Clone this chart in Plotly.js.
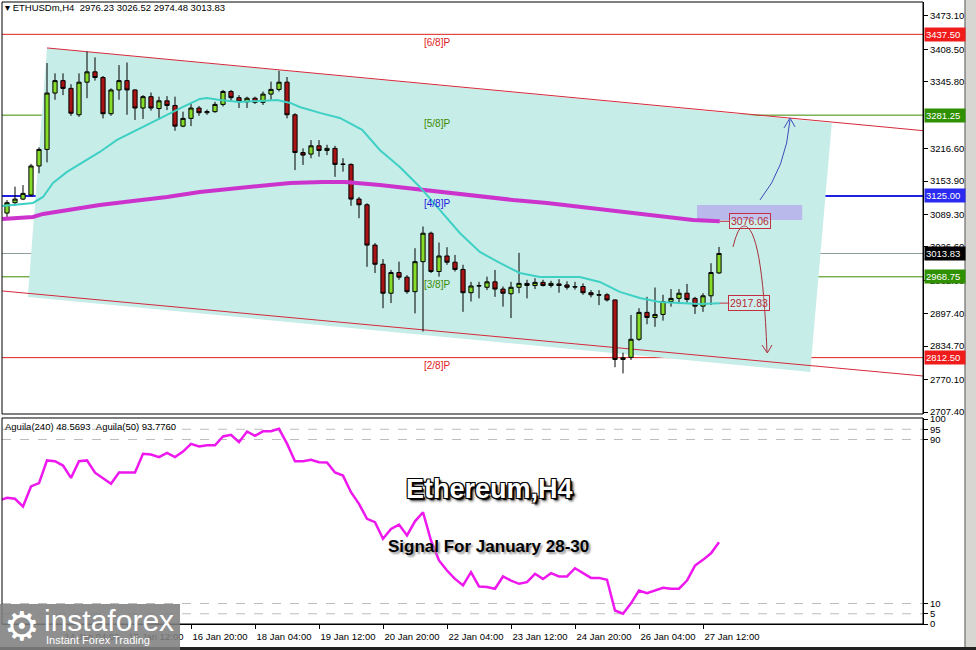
<!DOCTYPE html>
<html><head><meta charset="utf-8">
<script src="https://cdn.plot.ly/plotly-3.0.1.min.js"></script>
<style>html,body{margin:0;padding:0;background:#fff;}#chart{width:976px;height:650px;}</style>
</head><body><div id="chart"></div>
<script>
// ---- candles (H4 bars, index 0..89) ----
const barIndex = Array.from({length: 90}, (_, i) => i);
const opens = [3092,3112,3119,3127,3183,3215,3324,3348,3333,3282,3345,3365,3354,3284,3330,3348,3330,3295,3317,3294,
  3309,3300,3260,3275,3295,3286,3288,3302,3327,3315,3307,3314,3306,3322,3331,3345,3282,3209,3206,3222,
  3213,3217,3186,3186,3119,3108,3030,2993,2937,2977,2968,2940,2998,3053,2979,3009,2997,2983,2938,2951,
  2948.5,2959,2945,2936,2948.5,2956,2952,2958,2952,2955,2953,2949,2950,2938,2934,2934,2924,2809,2813,2848,
  2900,2890,2896,2921,2927,2937,2927,2912,2932,2976.23];
const highs = [3117,3143,3146,3187,3219,3382,3362,3362,3341,3362,3404,3393,3357,3333,3378,3383,3331,3320,3325,3317,
  3318,3317,3288,3304,3299,3292,3307,3330,3330,3320,3317,3317,3327,3346,3367,3355,3285,3217,3233,3233,
  3224,3222,3198,3188,3123,3111,3034,3003,2982,2998,2972,3024,3066,3056,3035,3026,3011,2992,2959,2959,
  2969,2982,2950,2959,3015,2963,2966,2963,2961,2964,2960,2959,2956,2943,2943,2937,2925,2822,2895,2908,
  2930,2948,2934,2945,2945,2955,2930,2937,2995,3026.52];
const lows = [3084,3106,3117,3124,3169,3190,3311,3320,3280,3278,3314,3348,3275,3280,3311,3282,3272,3274,3290,3273,
  3291,3251,3258,3260,3280,3282,3286,3298,3309,3295,3295,3303,3301,3311,3327,3275,3175,3185,3198,3201,
  3204,3162,3172,3106,3082,2988,2976,2908,2918,2963,2936,2898,2863,2976,2969,2992,2979,2901,2921,2927,
  2943,2930,2911,2889,2937,2927,2945,2950,2948,2938,2944,2944,2934,2929,2914,2921,2794,2782,2808,2845,
  2877,2872,2884,2911,2916,2919,2897,2901,2914,2974.48];
const closes = [3112,3119,3130,3183,3215,3324,3348,3333,3285,3345,3365,3354,3284,3330,3348,3330,3295,3317,3295,3309,
  3300,3260,3275,3295,3286,3288,3302,3327,3315,3307,3314,3306,3322,3331,3345,3282,3209,3204,3222,3213,
  3217,3186,3186.5,3119,3108,3030,2993,2937,2977,2968,2940,2998,3053,2979,3009,2997,2983,2938,2951,2951.5,
  2959,2945,2937,2948.5,2956,2952,2958,2952,2956,2952,2948.5,2949.5,2938,2934,2933.5,2924,2809,2812,2848,2900,
  2890,2896,2921,2927,2937,2925,2912,2932,2977,3013.83];

// ---- moving averages (bar index, price) ----
const cyanX = [-0.6,3.25,4.5,5.75,7.5,9.5,11.6,13.75,15.75,17.9,20,22,24.1,25,26.6,29.1,31.6,33.75,35.4,36.6,
  39.1,41.6,44.4,46.6,49.1,51.6,54.1,56.6,59.1,61.6,64.1,66.6,69.1,71.6,74.1,76.6,79.1,81.6,84.1,86.6,89.1];
const cyanY = [3105.7,3111.5,3123.1,3150.2,3171.5,3190.8,3210.1,3233.3,3248.8,3266.2,3281.7,3297.1,3312.6,3314.6,3310.7,
  3306.8,3308.8,3310.7,3304.9,3297.1,3285.6,3275.9,3252.7,3214,3181.1,3142.5,3098,3053.5,3016.8,2995.5,2976.2,
  2968.5,2968.5,2968.5,2958.8,2939.5,2927.9,2920.1,2918.2,2916.2,2917.83];
const magX = [-0.6,3.25,4.5,7.5,11.6,15.75,20,24.1,28.25,32.5,35.4,39.5,42.25,46.6,50.75,55,59.1,63.25,67.5,71.6,77.5,81.6,85.75,89.1];
const magY = [3080.6,3084.5,3090.3,3098,3107.7,3115.4,3123.1,3132.8,3138.6,3144.4,3150.2,3152.1,3152.1,3146.3,3138.6,
  3130.9,3123.1,3117.3,3111.5,3103.8,3094.1,3086.4,3078.7,3076.06];

// ---- Aguila oscillator (bar index -1..89) ----
const aguilaX = Array.from({length: 91}, (_, i) => i - 1);
const aguila = [60.2,61.6,61.1,57.3,67.1,68.7,79.8,79.4,77.3,71.3,79.4,79.8,73.8,71.3,68.4,73.9,73.9,73.9,83.0,82.7,
  81.4,83.5,81.4,84.1,87.9,86.6,87.2,87.2,91.5,92.3,88.7,93.9,91.8,94.0,94.0,95.2,88.0,79.4,79.4,80.1,
  78.9,78.8,73.9,72.4,64.3,58.6,51.3,49.7,41.6,46.4,48.5,43.2,50.1,54.5,40.7,31.0,26.1,22.0,18.8,25.3,
  18.3,18.0,17.2,23.2,21.2,19.6,20.4,24.5,22.0,24.8,23.2,23.2,27.2,24.8,22.5,22.5,21.6,6.6,5.0,10.1,
  16.3,15.0,16.3,17.7,17.2,17.2,21.2,28.5,31.3,34.5,39.9];

// ---- axis labels ----
const timeTickIdx = [7,15,23,31,39,47,55,63,71,79,87];
const timeTickText = ['14 Jan 04:00','15 Jan 12:00','16 Jan 20:00','18 Jan 04:00','19 Jan 12:00','20 Jan 20:00',
  '22 Jan 04:00','23 Jan 12:00','24 Jan 20:00','26 Jan 04:00','27 Jan 12:00'];
const priceTicks = [3473.10,3408.50,3345.80,3216.60,3153.90,3089.30,3026.60,2962.00,2897.40,2834.70,2770.10,2707.40];
const oscTicks = [0,5,10,90,95,100];

// ---- Murrey levels ----
const levelPrices = [3437.50, 3281.25, 3125.00, 2968.75, 2812.50];
const levelNames = ['[6/8]P','[5/8]P','[4/8]P','[3/8]P','[2/8]P'];
const levelColors = ['#e02020','#3a8a00','#2020e0','#3a8a00','#e02020'];
const levelBoxColors = ['#f01c1c','#2f9000','#2a2af0','#2f9000','#f01c1c'];
const lastPrice = 3013.83;
const upTarget = 3076.06;
const downTarget = 2917.83;

const FONT = 'Liberation Sans, Arial, sans-serif';

const traces = [
  {type:'scatter', mode:'lines', x:magX, y:magY, xaxis:'x', yaxis:'y',
   line:{color:'#cc33cc', width:4}, hoverinfo:'skip'},
  {type:'scatter', mode:'lines', x:cyanX, y:cyanY, xaxis:'x', yaxis:'y',
   line:{color:'#3fd0c4', width:2}, hoverinfo:'skip'},
  {type:'candlestick', x:barIndex, open:opens, high:highs, low:lows, close:closes, xaxis:'x', yaxis:'y',
   increasing:{line:{color:'#000', width:1}, fillcolor:'#86dc2a'},
   decreasing:{line:{color:'#000', width:1}, fillcolor:'#aa1414'},
   whiskerwidth:0, hoverinfo:'skip'},
  {type:'scatter', mode:'lines', x:aguilaX, y:aguila, xaxis:'x', yaxis:'y2',
   line:{color:'#ee18ee', width:2.5}, hoverinfo:'skip'}
];

const shapes = [];
shapes.push({type:'path', xref:'x', yref:'y', layer:'below',
  path:'M 5,3411.2 L 103.1,3266.2 L 100.4,2784.8 L 2.6,2929.8 Z',
  fillcolor:'#c7ede9', line:{width:0}});
shapes.push({type:'rect', xref:'x', yref:'y', layer:'below', x0:86.25, x1:99.4, y0:3078.7, y1:3107.7,
  fillcolor:'#b9b9ec', line:{width:0}});
shapes.push({type:'line', xref:'x', yref:'y', layer:'below', x0:5, y0:3411.2, x1:114.5, y1:3251.3,
  line:{color:'#d42a3a', width:1}});
shapes.push({type:'line', xref:'x', yref:'y', layer:'below', x0:-0.625, y0:2941.4, x1:114.5, y1:2777.0,
  line:{color:'#d42a3a', width:1}});
levelPrices.forEach((p, k) => {
  shapes.push({type:'line', xref:'paper', yref:'y', layer:'below', x0:0, x1:1, y0:p, y1:p,
    line:{color:levelColors[k], width: k === 2 ? 2 : 1}});
});
shapes.push({type:'line', xref:'paper', yref:'y', layer:'below', x0:0, x1:1, y0:lastPrice, y1:lastPrice,
  line:{color:'#8c9c9c', width:1}});
shapes.push({type:'line', xref:'x', yref:'y', x0:89.1, x1:90.4, y0:upTarget, y1:upTarget, line:{color:'#c03040', width:1}});
shapes.push({type:'line', xref:'x', yref:'y', x0:89.1, x1:90.3, y0:downTarget, y1:downTarget, line:{color:'#c03040', width:1}});
shapes.push({type:'path', xref:'x', yref:'y', path:'M 94.125,3117.3 Q 97.375,3179.2 97.875,3272.0',
  line:{color:'#3d4cb8', width:1}});
shapes.push({type:'path', xref:'x', yref:'y', path:'M 97.125,3256.5 L 97.875,3275.9 L 98.5,3258.5',
  line:{color:'#3d4cb8', width:1}});
shapes.push({type:'path', xref:'x', yref:'y', path:'M 90.75,3026.5 Q 91.375,3067.1 92.125,3067.1 Q 94.375,3067.1 95.0,2823.4',
  line:{color:'#a8303c', width:1}});
shapes.push({type:'path', xref:'x', yref:'y', path:'M 94.375,2836.9 L 95.04,2821.5 L 95.625,2836.9',
  line:{color:'#a8303c', width:1}});
[5,10,90,95].forEach(v => {
  shapes.push({type:'line', xref:'paper', yref:'y2', layer:'below', x0:0, x1:1, y0:v, y1:v,
    line:{color:'#bdbdbd', width:1, dash:'dash'}});
});
shapes.push({type:'rect', xref:'paper', yref:'paper', x0:0, x1:1, y0:0.3376, y1:1, line:{color:'#000', width:1}});
shapes.push({type:'rect', xref:'paper', yref:'paper', x0:0, x1:1, y0:0, y1:0.3312, line:{color:'#000', width:1}});
shapes.push({type:'rect', xref:'paper', yref:'paper', x0:1.0456, x1:1.06, y0:-0.05, y1:1.01,
  fillcolor:'#d8d6d2', line:{color:'#555', width:1}});
shapes.push({type:'line', xref:'paper', yref:'paper', x0:-0.01, x1:1.06, y0:-0.0395, y1:-0.0395, line:{color:'#222', width:3}});
shapes.push({type:'rect', xref:'paper', yref:'paper', layer:'above', x0:-0.0025, x1:0.1933, y0:-0.0418, y1:0.0322,
  fillcolor:'rgba(128,128,128,0.88)', line:{width:0}});

const annotations = [];
annotations.push({xref:'paper', yref:'paper', x:0.001, y:0.9904, xanchor:'left', yanchor:'middle', showarrow:false,
  text:'\u25BE ETHUSDm,H4\u00a0\u00a0' + [opens[89], highs[89], lows[89], closes[89]].map(v => v.toFixed(2)).join(' '),
  font:{family:FONT, size:9.5, color:'#000'}});
annotations.push({xref:'paper', yref:'paper', x:0.001, y:0.3183, xanchor:'left', yanchor:'middle', showarrow:false,
  text:'Aguila(240) 48.5693\u00a0\u00a0Aguila(50) 93.7760', font:{family:FONT, size:9.5, color:'#000'}});
levelPrices.forEach((p, k) => {
  annotations.push({xref:'x', yref:'y', x:53.75, y:p, yshift:-8, xanchor:'center', yanchor:'middle', showarrow:false,
    text:levelNames[k], font:{family:FONT, size:10, color:levelColors[k]}});
  annotations.push({xref:'paper', yref:'y', x:1, y:p, xanchor:'left', yanchor:'middle', xshift:1, showarrow:false,
    text:p.toFixed(2), bgcolor:levelBoxColors[k], borderpad:1, width:38, align:'left',
    font:{family:FONT, size:9.5, color:'#fff'}});
});
annotations.push({xref:'paper', yref:'y', x:1, y:lastPrice, xanchor:'left', yanchor:'middle', xshift:1, showarrow:false,
  text:lastPrice.toFixed(2), bgcolor:'#000', borderpad:1, width:38, align:'left',
  font:{family:FONT, size:9.5, color:'#fff'}});
[[upTarget, 92.9], [downTarget, 92.8]].forEach(([p, xi]) => {
  annotations.push({xref:'x', yref:'y', x:xi, y:p, xanchor:'center', yanchor:'middle', showarrow:false, text:p.toFixed(2),
    bordercolor:'#c03040', borderwidth:1, borderpad:1, bgcolor:'rgba(255,255,255,0.15)',
    font:{family:FONT, size:10.5, color:'#b52a35'}});
});
annotations.push({xref:'paper', yref:'paper', x:0.5298, y:0.217, xanchor:'center', yanchor:'middle', showarrow:false,
  text:'<b>Ethereum,H4</b>',
  font:{family:FONT, size:27, color:'#fff',
    shadow:'1px 1px 0 #000, -1px -1px 0 #000, 1px -1px 0 #000, -1px 1px 0 #000, 2px 2px 1px #000, 3px 3px 3px #333'}});
annotations.push({xref:'paper', yref:'paper', x:0.5277, y:0.1254, xanchor:'center', yanchor:'middle', showarrow:false,
  text:'<b>Signal For January 28-30</b>',
  font:{family:FONT, size:17, color:'#000', shadow:'2px 2px 2px #999'}});
annotations.push({xref:'paper', yref:'paper', x:0.0217, y:-0.0032, xanchor:'center', yanchor:'middle', showarrow:false,
  text:'\u2699', font:{family:'DejaVu Sans', size:40, color:'#fff'}});
annotations.push({xref:'paper', yref:'paper', x:0.1162, y:0.0064, xanchor:'center', yanchor:'middle', showarrow:false,
  text:'instaforex', font:{family:FONT, size:30, color:'#fff'}});
annotations.push({xref:'paper', yref:'paper', x:0.1042, y:-0.0257, xanchor:'center', yanchor:'middle', showarrow:false,
  text:'Instant Forex Trading', font:{family:FONT, size:11, color:'#fff'}});

const layout = {
  width:976, height:650,
  margin:{l:2, r:53, t:2, b:26, pad:0},
  paper_bgcolor:'#fff', plot_bgcolor:'#fff',
  showlegend:false, hovermode:false, dragmode:false,
  boxgap:0.25,
  xaxis:{anchor:'y2', range:[-0.625, 114.5], showgrid:false, zeroline:false,
    rangeslider:{visible:false}, tickmode:'array', tickvals:timeTickIdx, ticktext:timeTickText,
    ticks:'outside', ticklen:4, tickcolor:'#000', showline:true, linecolor:'#000', linewidth:1,
    ticklabelshift:29, tickfont:{family:FONT, size:9.5, color:'#000'}},
  yaxis:{domain:[0.3376, 1], anchor:'x', side:'right', range:[2703.5, 3500], showgrid:false, zeroline:false,
    tickmode:'array', tickvals:priceTicks, ticktext:priceTicks.map(v => v.toFixed(2)),
    ticks:'outside', ticklen:4, tickcolor:'#000', showline:true, linecolor:'#000', linewidth:1,
    tickfont:{family:FONT, size:9.5, color:'#000'}},
  yaxis2:{domain:[0, 0.3312], anchor:'x', side:'right', range:[0, 100.5], showgrid:false, zeroline:false,
    tickmode:'array', tickvals:oscTicks, ticktext:oscTicks.map(String),
    ticks:'outside', ticklen:4, tickcolor:'#000', showline:true, linecolor:'#000', linewidth:1,
    tickfont:{family:FONT, size:9.5, color:'#000'}},
  shapes:shapes, annotations:annotations
};

Plotly.newPlot('chart', traces, layout, {staticPlot:true, displayModeBar:false});
</script>
</body></html>
